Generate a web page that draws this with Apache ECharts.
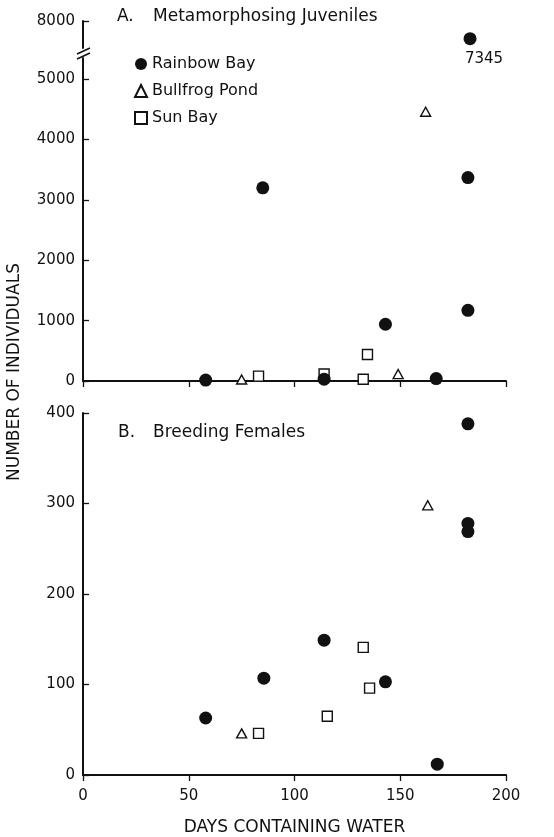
<!DOCTYPE html>
<html>
<head>
<meta charset="utf-8">
<script src="https://cdn.jsdelivr.net/npm/echarts@6/dist/echarts.min.js"></script>
<style>html,body{margin:0;padding:0;background:#fff;}#c{width:554px;height:837px;}</style>
</head>
<body>
<div id="c"></div>
<script>
// ---- data ----
const xTicks = [0, 50, 100, 150, 200];
const juvTicksLow = [0, 1000, 2000, 3000, 4000, 5000];
const juvTicksHigh = [8000];
const femTicks = [0, 100, 200, 300, 400];

// Panel A: metamorphosing juveniles
const rainbowDaysA = [58, 85, 114, 143, 167, 182, 182, 183];
const rainbowJuveniles = [15, 3200, 30, 940, 40, 3370, 1170, 7345];
const bullfrogDaysA = [75, 149, 162];
const bullfrogJuveniles = [25, 115, 4460];
const sunDaysA = [83, 114, 132.5, 134.5];
const sunJuveniles = [80, 115, 30, 440];

// Panel B: breeding females
const rainbowDaysB = [58, 85.5, 114, 143, 167.5, 182, 182, 182];
const rainbowFemales = [63, 107, 149, 103, 12, 388, 278, 269];
const bullfrogDaysB = [75, 163];
const bullfrogFemales = [46, 298];
const sunDaysB = [83, 115.5, 132.5, 135.5];
const sunFemales = [46, 65, 141, 96];

const breakLow = 5350;   // top of lower segment of axis A
const breakHigh = 7000;  // bottom of upper segment of axis A

const zip = (xs, ys) => xs.map((x, i) => [x, ys[i]]);
const FONT = 'DejaVu Sans';
const INK = '#111';
const plain = v => String(v);

const rainbowA = zip(rainbowDaysA, rainbowJuveniles);
const rainbowALow = rainbowA.filter(p => p[1] <= breakLow);
const rainbowAHigh = rainbowA.filter(p => p[1] > breakLow).map(p => ({
  value: p,
  label: {show: true, position: 'bottom', distance: 6, offset: [14, 0], formatter: String(p[1]),
          fontFamily: FONT, fontSize: 15, color: INK}
}));

const circleStyle = {color: INK, opacity: 1};
const hollowStyle = {color: '#fff', borderColor: INK, borderWidth: 1.4, opacity: 1};

function xAxisCfg(grid, opts) {
  return Object.assign({
    type: 'value', gridIndex: grid, min: 0, max: 200, interval: 50,
    splitLine: {show: false},
    axisLine: {show: true, onZero: false, lineStyle: {color: INK, width: 2}},
    axisTick: {show: true, inside: false, length: 6, lineStyle: {color: INK, width: 1.3}},
    axisLabel: {show: false}
  }, opts);
}
function yAxisCfg(grid, min, max, ticks, opts) {
  return Object.assign({
    type: 'value', gridIndex: grid, min: min, max: max,
    splitLine: {show: false},
    axisLine: {show: true, lineStyle: {color: INK, width: 2}},
    axisTick: {show: true, inside: true, length: 6, customValues: ticks, lineStyle: {color: INK, width: 1.3}},
    axisLabel: {show: true, customValues: ticks, margin: 8, formatter: plain, fontFamily: FONT, fontSize: 15, color: INK}
  }, opts);
}

const chart = echarts.init(document.getElementById('c'));
chart.setOption({
  animation: false,
  backgroundColor: '#fff',
  textStyle: {fontFamily: FONT, color: INK},
  grid: [
    {left: 83, right: 48, top: 21, height: 27},
    {left: 83, right: 48, top: 58, height: 323},
    {left: 83, right: 48, top: 413, height: 362}
  ],
  xAxis: [
    xAxisCfg(0, {show: false}),
    xAxisCfg(1, {}),
    xAxisCfg(2, {
      axisLabel: {show: true, margin: 14, formatter: plain, fontFamily: FONT, fontSize: 15, color: INK},
      name: 'DAYS CONTAINING WATER', nameLocation: 'middle', nameGap: 44,
      nameTextStyle: {fontFamily: FONT, fontSize: 17, color: INK}
    })
  ],
  yAxis: [
    yAxisCfg(0, breakHigh, 8000, juvTicksHigh, {}),
    yAxisCfg(1, 0, breakLow, juvTicksLow, {}),
    yAxisCfg(2, 0, 400, femTicks, {interval: 100})
  ],
  legend: {
    orient: 'vertical', left: 129, top: 51, itemWidth: 12, itemHeight: 12, itemGap: 11,
    textStyle: {fontFamily: FONT, fontSize: 16, color: INK},
    data: [
      {name: 'Rainbow Bay', icon: 'circle'},
      {name: 'Bullfrog Pond', icon: 'triangle'},
      {name: 'Sun Bay', icon: 'rect'}
    ]
  },
  series: [
    {name: 'Sun Bay', type: 'scatter', xAxisIndex: 1, yAxisIndex: 1, symbol: 'rect', symbolSize: 10,
     itemStyle: hollowStyle, z: 2, data: zip(sunDaysA, sunJuveniles)},
    {name: 'Bullfrog Pond', type: 'scatter', xAxisIndex: 1, yAxisIndex: 1, symbol: 'triangle', symbolSize: [10, 9],
     itemStyle: hollowStyle, z: 3, data: zip(bullfrogDaysA, bullfrogJuveniles)},
    {name: 'Rainbow Bay', type: 'scatter', xAxisIndex: 1, yAxisIndex: 1, symbol: 'circle', symbolSize: 13,
     itemStyle: circleStyle, z: 4, data: rainbowALow},
    {name: 'Rainbow Bay', type: 'scatter', xAxisIndex: 0, yAxisIndex: 0, symbol: 'circle', symbolSize: 13,
     itemStyle: circleStyle, z: 4, data: rainbowAHigh},
    {name: 'Sun Bay', type: 'scatter', xAxisIndex: 2, yAxisIndex: 2, symbol: 'rect', symbolSize: 10,
     itemStyle: hollowStyle, z: 2, data: zip(sunDaysB, sunFemales)},
    {name: 'Bullfrog Pond', type: 'scatter', xAxisIndex: 2, yAxisIndex: 2, symbol: 'triangle', symbolSize: [10, 9],
     itemStyle: hollowStyle, z: 3, data: zip(bullfrogDaysB, bullfrogFemales)},
    {name: 'Rainbow Bay', type: 'scatter', xAxisIndex: 2, yAxisIndex: 2, symbol: 'circle', symbolSize: 13,
     itemStyle: circleStyle, z: 4, data: zip(rainbowDaysB, rainbowFemales)}
  ],
  graphic: [
    {type: 'text', x: 117, y: 17, style: {text: 'A.', fontFamily: FONT, fontSize: 17, fill: INK, align: 'left', verticalAlign: 'middle'}},
    {type: 'text', x: 153, y: 17, style: {text: 'Metamorphosing Juveniles', fontFamily: FONT, fontSize: 17, fill: INK, align: 'left', verticalAlign: 'middle'}},
    {type: 'text', x: 118, y: 433, style: {text: 'B.', fontFamily: FONT, fontSize: 17, fill: INK, align: 'left', verticalAlign: 'middle'}},
    {type: 'text', x: 153, y: 433, style: {text: 'Breeding Females', fontFamily: FONT, fontSize: 17, fill: INK, align: 'left', verticalAlign: 'middle'}},
    {type: 'text', x: 15, y: 372, rotation: Math.PI / 2, style: {text: 'NUMBER OF INDIVIDUALS', fontFamily: FONT, fontSize: 17, fill: INK, align: 'center', verticalAlign: 'middle'}},
    {type: 'line', shape: {x1: 77, y1: 54, x2: 90, y2: 48}, style: {stroke: INK, lineWidth: 1.5}},
    {type: 'line', shape: {x1: 77, y1: 59, x2: 90, y2: 53}, style: {stroke: INK, lineWidth: 1.5}}
  ]
});
</script>
</body>
</html>
